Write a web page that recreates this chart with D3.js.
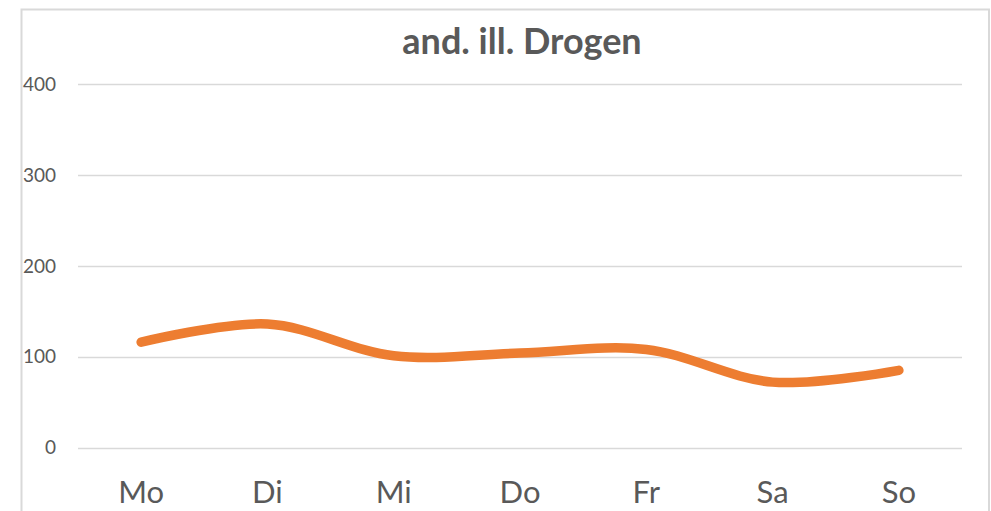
<!DOCTYPE html>
<html>
<head>
<meta charset="utf-8">
<script src="https://cdn.jsdelivr.net/npm/d3@7"></script>
<style>
  html, body { margin: 0; padding: 0; background: #fff; }
  svg { display: block; }
  text { font-family: Lato, "Open Sans", sans-serif; fill: #595959; }
</style>
</head>
<body>
<svg id="chart" width="991" height="511"></svg>
<script>
const title = "and. ill. Drogen";
const categories = ["Mo", "Di", "Mi", "Do", "Fr", "Sa", "So"];
const values = [116, 136, 101, 104, 108, 72, 85];
const yTicks = [0, 100, 200, 300, 400];

const W = 991, H = 511;
const plot = { left: 78, right: 962, top: 84.3, bottom: 447.5 };

const svg = d3.select("#chart");
svg.append("rect").attr("width", W).attr("height", H).attr("fill", "#fff");

// chart area frame
svg.append("rect")
  .attr("x", 21.5).attr("y", 9.5)
  .attr("width", 989 - 21.5).attr("height", H + 20)
  .attr("fill", "#fff")
  .attr("stroke", "#d9d9d9").attr("stroke-width", 2);

const x = d3.scalePoint().domain(categories).range([plot.left, plot.right]).padding(0.5);
const y = d3.scaleLinear().domain([0, 400]).range([plot.bottom, plot.top]);

// gridlines
svg.append("g").selectAll("line").data(yTicks).join("line")
  .attr("x1", plot.left).attr("x2", plot.right)
  .attr("y1", d => Math.round(y(d)) + 0.5).attr("y2", d => Math.round(y(d)) + 0.5)
  .attr("stroke", "#d9d9d9").attr("stroke-width", 1.5);

// y labels
svg.append("g").selectAll("text").data(yTicks).join("text")
  .attr("x", 56).attr("y", d => y(d)).attr("dy", "0.35em")
  .attr("text-anchor", "end")
  .style("font-size", "19px")
  .text(d => d);

// x labels
svg.append("g").selectAll("text").data(categories).join("text")
  .attr("x", d => x(d)).attr("y", 503)
  .attr("text-anchor", "middle")
  .style("font-size", "31px")
  .text(d => d);

// title
svg.append("text")
  .attr("x", 522).attr("y", 54)
  .attr("text-anchor", "middle")
  .style("font-size", "36px").style("font-weight", "bold")
  .text(title);

// line
const line = d3.line()
  .x((d, i) => x(categories[i]))
  .y(d => y(d))
  .curve(d3.curveCatmullRom.alpha(0.5));

svg.append("path")
  .datum(values)
  .attr("d", line)
  .attr("fill", "none")
  .attr("stroke", "#ED7D31")
  .attr("stroke-width", 9.5)
  .attr("stroke-linecap", "round")
  .attr("stroke-linejoin", "round");
</script>
</body>
</html>
